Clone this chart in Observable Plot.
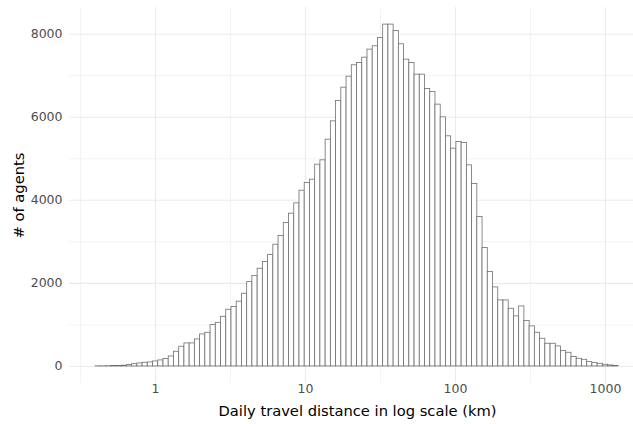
<!DOCTYPE html>
<html><head><meta charset="utf-8">
<script src="https://cdn.jsdelivr.net/npm/d3@7"></script>
<script src="https://cdn.jsdelivr.net/npm/@observablehq/plot@0.6"></script>
<style>body{margin:0;background:#fff}</style></head>
<body><div id="chart"></div>
<script>
// Histogram counts (# of agents) for 100 log-spaced bins of daily travel distance
const counts = [2,3,5,10,12,18,32,55,72,88,
  96,120,145,177,240,353,474,554,554,650,
  770,810,995,1050,1195,1365,1430,1560,1750,2030,
  2176,2353,2513,2682,2931,3140,3453,3678,3927,4232,
  4417,4497,4858,4963,5460,5902,6392,6713,6978,7251,
  7307,7436,7629,7709,7910,8231,8231,8078,7757,7388,
  7307,7026,7026,6681,6609,6304,5998,5541,5244,5404,
  5380,4842,4392,3597,2851,2272,1903,1590,1590,1389,
  1205,1445,1092,964,811,666,546,546,482,369,
  329,225,185,160,104,80,64,40,24,8];
const logBinStart = -0.4;     // log10(km) of first bin's lower edge
const logBinWidth = 0.03487;  // bin width in log10(km)
const xTicks = [1, 10, 100, 1000];
const xMinor = [10 ** -0.5, 10 ** 0.5, 10 ** 1.5, 10 ** 2.5];
const yTicks = [0, 2000, 4000, 6000, 8000];
const yMinor = [1000, 3000, 5000, 7000];
const xTitle = "Daily travel distance in log scale (km)";
const yTitle = "# of agents";

const bins = counts.map((c, i) => ({
  x1: 10 ** (logBinStart + i * logBinWidth),
  x2: 10 ** (logBinStart + (i + 1) * logBinWidth),
  count: c
}));

const font = "'DejaVu Sans', sans-serif";
const chart = Plot.plot({
  width: 633, height: 424,
  marginLeft: 69, marginRight: 0, marginTop: 7, marginBottom: 41,
  style: {fontFamily: font, background: "#fff", overflow: "visible"},
  x: {type: "log", domain: [10 ** -0.5733, 10 ** 3.1867]},
  y: {domain: [-411, 8643]},
  marks: [
    Plot.ruleX(xMinor, {stroke: "#ebebeb", strokeWidth: 0.6}),
    Plot.ruleY(yMinor, {stroke: "#ebebeb", strokeWidth: 0.6}),
    Plot.ruleX(xTicks, {stroke: "#ebebeb", strokeWidth: 1.1}),
    Plot.ruleY(yTicks, {stroke: "#ebebeb", strokeWidth: 1.1}),
    Plot.rectY(bins, {x1: "x1", x2: "x2", y: "count", fill: "white", stroke: "#6f6f6f", strokeWidth: 0.8}),
    Plot.axisX(xTicks, {tickSize: 0, tickPadding: 1, tickFormat: d => String(d), fontSize: 12.5, fill: "#4d4d4d", label: null}),
    Plot.axisY(yTicks, {tickSize: 0, tickPadding: 7, tickFormat: d => String(d), fontSize: 12.5, fill: "#4d4d4d", label: null}),
    Plot.text([xTitle], {frameAnchor: "bottom", textAnchor: "middle", lineAnchor: "top", dy: 22, dx: 6, fontSize: 14.7, fill: "black"}),
    Plot.text([yTitle], {frameAnchor: "left", textAnchor: "middle", lineAnchor: "middle", rotate: -90, dx: -50, dy: 0, fontSize: 14.7, fill: "black"})
  ]
});
document.getElementById("chart").appendChild(chart);
</script>
</body></html>
